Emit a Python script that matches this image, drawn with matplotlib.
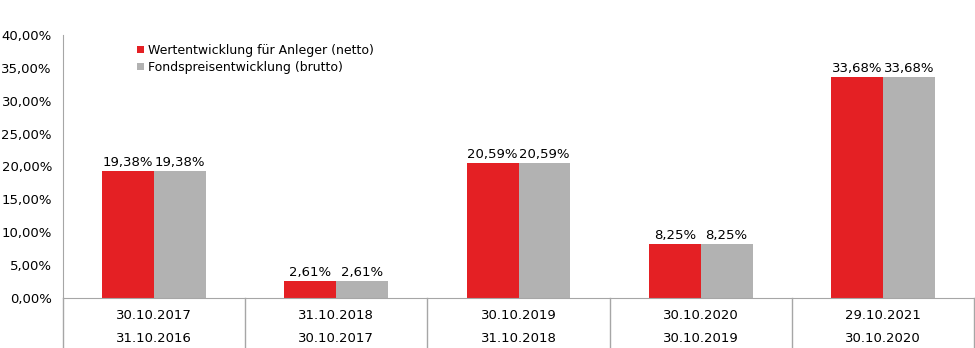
import numpy as np
import matplotlib.pyplot as plt
from matplotlib.ticker import FuncFormatter

# Zeitraeume (Ende / Anfang)
period_end = ['30.10.2017', '31.10.2018', '30.10.2019', '30.10.2020', '29.10.2021']
period_start = ['31.10.2016', '30.10.2017', '31.10.2018', '30.10.2019', '30.10.2020']

# Wertentwicklung in Prozent
netto = [19.38, 2.61, 20.59, 8.25, 33.68]
brutto = [19.38, 2.61, 20.59, 8.25, 33.68]

series_names = ['Wertentwicklung für Anleger (netto)', 'Fondspreisentwicklung (brutto)']
red = '#E42024'
grey = '#B2B2B2'
line_col = '#A6A6A6'

plt.rcParams['font.family'] = ['DejaVu Sans']

fig = plt.figure(figsize=(9.75, 3.48), dpi=100)
ax = fig.add_axes([63 / 975, 50 / 348, 911 / 975, 263 / 348])

x = np.arange(len(netto))
w = 0.285
b1 = ax.bar(x - w / 2, netto, w, color=red, label=series_names[0])
b2 = ax.bar(x + w / 2, brutto, w, color=grey, label=series_names[1])

def pct(v):
    return f'{v:.2f}%'.replace('.', ',')

for bars, vals in [(b1, netto), (b2, brutto)]:
    for r, v in zip(bars, vals):
        ax.text(r.get_x() + r.get_width() / 2, v + 0.3, pct(v),
                ha='center', va='bottom', fontsize=9.5)

ax.set_xlim(-0.5, len(netto) - 0.5)
ax.set_ylim(0, 40)
ax.set_yticks(np.arange(0, 41, 5))
ax.yaxis.set_major_formatter(FuncFormatter(lambda v, p: pct(v)))
ax.tick_params(axis='y', length=0, labelsize=9.5, pad=8)
ax.set_xticks([])

for s in ['top', 'right']:
    ax.spines[s].set_visible(False)
ax.spines['left'].set_color(line_col)
ax.spines['bottom'].set_color(line_col)

# Kategorie-Beschriftung mit Trennlinien
trans = ax.get_xaxis_transform()
for i in range(len(netto)):
    ax.text(i, -0.065, period_end[i], transform=trans, ha='center', va='center', fontsize=9.5)
    ax.text(i, -0.155, period_start[i], transform=trans, ha='center', va='center', fontsize=9.5)
for i in range(len(netto) + 1):
    ax.plot([i - 0.5, i - 0.5], [0, -0.2], transform=trans, color=line_col,
            lw=1, clip_on=False)

ax.legend(loc='upper left', bbox_to_anchor=(0.076, 0.985), frameon=False,
          fontsize=9, handlelength=0.55, handleheight=0.55, handletextpad=0.3,
          labelspacing=0.3, borderaxespad=0)

fig.savefig('out.png', dpi=100)
